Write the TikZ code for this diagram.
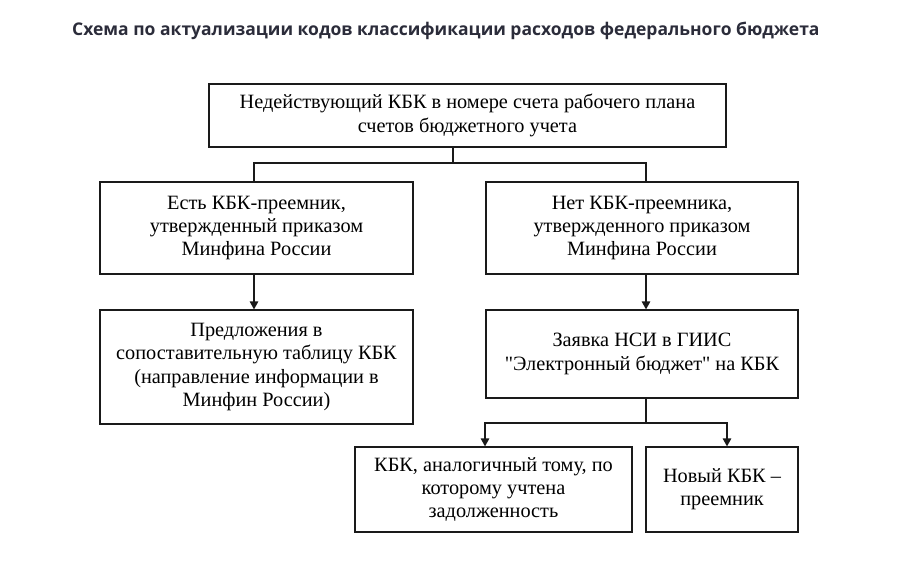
\documentclass[tikz,border=0pt]{standalone}
\usepackage{fontspec}
\setmainfont{Liberation Serif}
\newfontfamily\titlefont{Open Sans}
\usetikzlibrary{arrows.meta}
\definecolor{titlecol}{HTML}{2B2C3A}
\definecolor{linecol}{HTML}{1A1A1A}
\begin{document}
\begin{tikzpicture}[x=1pt,y=-1pt,
  box/.style={draw=linecol, line width=1.2pt, align=center, inner sep=0pt,
    font=\fontsize{20.3}{23.3}\selectfont, text=black},
  conn/.style={draw=linecol, line width=1.2pt},
  arr/.style={conn, -{Triangle[length=8pt,width=8.5pt]}}]
\useasboundingbox (0,0) rectangle (910,580);
\node[anchor=west, inner sep=0pt, font=\titlefont\bfseries\fontsize{17.5}{20}\selectfont, text=titlecol] (title) at (72,31) {Схема по актуализации кодов классификации расходов федерального бюджета};
\node[box, minimum width=517pt, minimum height=63pt] (top) at (467.5,115.5) {Недействующий КБК в номере счета рабочего плана\\счетов бюджетного учета};
\node[box, minimum width=313pt, minimum height=92pt] (l1) at (256.5,228) {Есть КБК-преемник,\\утвержденный приказом\\Минфина России};
\node[box, minimum width=312pt, minimum height=92pt] (r1) at (642,228) {Нет КБК-преемника,\\утвержденного приказом\\Минфина России};
\node[box, minimum width=313pt, minimum height=114pt] (l2) at (256.5,367) {Предложения в\\сопоставительную таблицу КБК\\(направление информации в\\Минфин России)};
\node[box, minimum width=312pt, minimum height=88pt] (r2) at (642,354) {Заявка НСИ в ГИИС\\\textquotedbl Электронный бюджет\textquotedbl{} на КБК};
\node[box, minimum width=277pt, minimum height=85pt] (b1) at (493.5,489.5) {КБК, аналогичный тому, по\\которому учтена\\задолженность};
\node[box, minimum width=152pt, minimum height=85pt] (b2) at (722,489.5) {Новый КБК –\\преемник};
\coordinate (j1) at (453,163);
\coordinate (xl) at (254,0);
\coordinate (xr) at (646,0);
\coordinate (j2) at (646,423);
\coordinate (xb1) at (485,0);
\coordinate (xb2) at (727,0);
\draw[conn] (top.south -| j1) -- (j1);
\draw[conn] (l1.north -| xl) |- (j1) -| (r1.north -| xr);
\draw[arr] (l1.south -| xl) -- (l2.north -| xl);
\draw[arr] (r1.south -| xr) -- (r2.north -| xr);
\draw[conn] (r2.south -| j2) -- (j2);
\draw[arr] (j2) -| (b1.north -| xb1);
\draw[arr] (j2) -| (b2.north -| xb2);
\end{tikzpicture}
\end{document}
